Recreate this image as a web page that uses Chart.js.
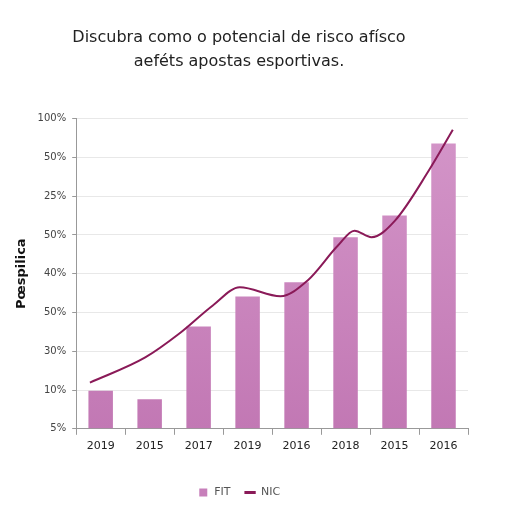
<!DOCTYPE html>
<html>
<head>
<meta charset="utf-8">
<script src="https://cdn.jsdelivr.net/npm/chart.js@4"></script>
<style>
  html, body { margin: 0; padding: 0; background: #fff; }
  #wrap { width: 512px; height: 512px; }
</style>
</head>
<body>
<div id="wrap"><canvas id="chart" width="512" height="512"></canvas></div>
<script>
// chart data
const years = ["2019", "2015", "2017", "2019", "2016", "2018", "2015", "2016"];
const yTickLabels = ["5%", "10%", "30%", "50%", "40%", "50%", "25%", "50%", "100%"];
const barValues = [0.98, 0.76, 2.64, 3.41, 3.78, 4.94, 5.50, 7.36];
// trend line: x position (in category units) and height
const lineX = [-0.22, 0.91, 1.60, 2.29, 2.84, 3.67, 4.22, 4.84, 5.18, 5.53, 6.01, 6.70, 7.19];
const lineY = [1.19, 1.84, 2.45, 3.18, 3.65, 3.42, 3.82, 4.72, 5.11, 4.94, 5.37, 6.66, 7.71];

const linePoints = lineX.map((x, i) => ({ x: x, y: lineY[i] }));

// vertical pink gradient for bars
function barGradient(context) {
  const area = context.chart.chartArea;
  if (!area) return "#cc86bf";
  const g = context.chart.ctx.createLinearGradient(0, area.top, 0, area.bottom);
  g.addColorStop(0, "#d496c9");
  g.addColorStop(1, "#c278b4");
  return g;
}

new Chart(document.getElementById("chart"), {
  type: "bar",
  data: {
    labels: years,
    datasets: [
      {
        type: "bar",
        label: "FIT",
        data: barValues,
        backgroundColor: barGradient,
        barPercentage: 0.5,
        categoryPercentage: 1.0,
        grouped: false,
        order: 2
      },
      {
        type: "line",
        label: "NIC",
        data: linePoints,
        xAxisID: "x2",
        borderColor: "#8a1a58",
        backgroundColor: "#8a1a58",
        borderWidth: 2,
        pointRadius: 0,
        cubicInterpolationMode: "monotone",
        order: 1
      }
    ]
  },
  options: {
    responsive: false,
    animation: false,
    layout: { padding: { left: 10, right: 44, top: 0, bottom: 4 } },
    plugins: {
      title: {
        display: true,
        text: ["Discubra como o potencial de risco afísco", "aeféts apostas esportivas."],
        color: "#222",
        font: { family: "DejaVu Sans", size: 16, weight: "normal", lineHeight: 1.55 },
        padding: { top: 25, bottom: 44 }
      },
      legend: {
        position: "bottom",
        labels: {
          usePointStyle: true,
          boxWidth: 22,
          boxHeight: 8,
          color: "#555",
          font: { family: "DejaVu Sans", size: 11 },
          padding: 14,
          generateLabels(chart) {
            return chart.data.datasets.map((ds, i) => ({
              text: ds.label,
              fillStyle: i === 0 ? "#c77fba" : "#8a1a58",
              strokeStyle: i === 0 ? "#c77fba" : "#8a1a58",
              lineWidth: i === 0 ? 0 : 3,
              pointStyle: i === 0 ? "rect" : "line",
              fontColor: "#555",
              datasetIndex: i
            }));
          }
        }
      },
      tooltip: { enabled: false }
    },
    scales: {
      x: {
        type: "category",
        offset: true,
        grid: {
          offset: true,
          drawOnChartArea: false,
          tickLength: 6,
          color: "#999"
        },
        border: { color: "#999" },
        ticks: { color: "#222", font: { family: "DejaVu Sans", size: 11 }, padding: 5 },
        afterFit(scale) { scale.height += 15; }
      },
      x2: {
        type: "linear",
        display: false,
        offset: false,
        min: -0.5,
        max: 7.5
      },
      y: {
        min: 0,
        max: 8,
        ticks: {
          stepSize: 1,
          color: "#444",
          font: { family: "DejaVu Sans", size: 10 },
          padding: 6,
          callback: (v) => yTickLabels[v]
        },
        grid: { color: "#e8e8e8", tickLength: 4, tickColor: "#999" },
        border: { color: "#999" },
        title: {
          display: true,
          text: "Pœspilica",
          color: "#111",
          font: { family: "DejaVu Sans", size: 13, weight: "bold" },
          padding: { bottom: 2 }
        }
      }
    }
  }
});
</script>
</body>
</html>
